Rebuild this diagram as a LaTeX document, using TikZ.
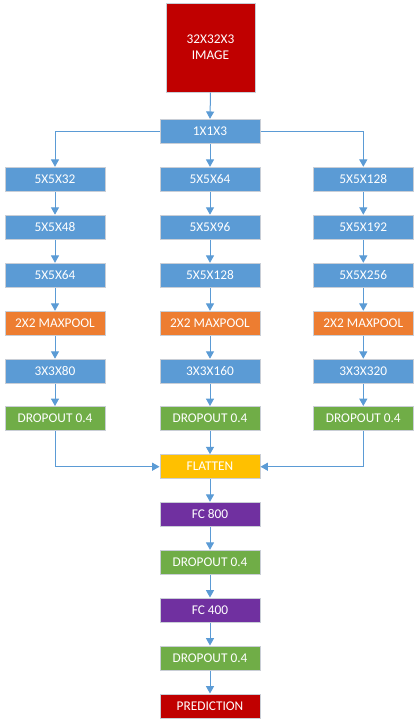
\documentclass[tikz,border=0pt]{standalone}
\usepackage{fontspec}
\setmainfont{Carlito}
\usetikzlibrary{arrows.meta}
\definecolor{cblue}{HTML}{5B9BD5}
\definecolor{corange}{HTML}{ED7D31}
\definecolor{cgreen}{HTML}{70AD47}
\definecolor{cyellow}{HTML}{FFC000}
\definecolor{cpurple}{HTML}{7030A0}
\definecolor{cred}{HTML}{C00000}
\definecolor{cedge}{HTML}{C9CED6}
\begin{document}
\begin{tikzpicture}[x=0.75pt,y=-0.75pt,
  layer/.style={draw=cedge, line width=0.75pt, text=white, inner sep=0pt,
    minimum width=75pt, minimum height=18pt,
    font=\fontsize{10pt}{12pt}\selectfont},
  conv/.style={layer, fill=cblue},
  pool/.style={layer, fill=corange},
  drop/.style={layer, fill=cgreen},
  flat/.style={layer, fill=cyellow},
  dense/.style={layer, fill=cpurple},
  outbox/.style={layer, fill=cred},
  arr/.style={draw=cblue, line width=0.75pt,
    -{Triangle[width=6pt,length=5.5pt]}}]
\useasboundingbox (0,0) rectangle (419,726);

% input
\node[outbox, minimum width=66.75pt, minimum height=66.75pt, align=center,
  font=\fontsize{10pt}{12pt}\selectfont] (img) at (210.5,47.5) {32X32X3\\IMAGE};
\node[conv] (c0) at (210,131.3) {1X1X3};

% left branch
\node[conv]  (a1) at (55,179.3) {5X5X32};
\node[conv]  (a2) at (55,227.2) {5X5X48};
\node[conv]  (a3) at (55,275.3) {5X5X64};
\node[pool]  (a4) at (55,323.3) {2X2 MAXPOOL};
\node[conv]  (a5) at (55,371.2) {3X3X80};
\node[drop]  (a6) at (55,418.5) {DROPOUT 0.4};

% middle branch
\node[conv]  (b1) at (210,179.3) {5X5X64};
\node[conv]  (b2) at (210,227.2) {5X5X96};
\node[conv]  (b3) at (210,275.3) {5X5X128};
\node[pool]  (b4) at (210,323.3) {2X2 MAXPOOL};
\node[conv]  (b5) at (210,371.2) {3X3X160};
\node[drop]  (b6) at (210,418.5) {DROPOUT 0.4};

% right branch
\node[conv]  (r1) at (363.3,179.3) {5X5X128};
\node[conv]  (r2) at (363.3,227.2) {5X5X192};
\node[conv]  (r3) at (363.3,275.3) {5X5X256};
\node[pool]  (r4) at (363.3,323.3) {2X2 MAXPOOL};
\node[conv]  (r5) at (363.3,371.2) {3X3X320};
\node[drop]  (r6) at (363.3,418.5) {DROPOUT 0.4};

% head
\node[flat]   (fl) at (210,466.7) {FLATTEN};
\node[dense]  (f1) at (210,514.3) {FC 800};
\node[drop]   (d1) at (210,562.3) {DROPOUT 0.4};
\node[dense]  (f2) at (210,610)   {FC 400};
\node[drop]   (d2) at (210,658)   {DROPOUT 0.4};
\node[outbox] (pr) at (210,706)   {PREDICTION};

% connectors
\draw[arr] (img.south) -- (c0.north);
\draw[arr] (c0.west) -| (a1.north);
\draw[arr] (c0.south) -- (b1.north);
\draw[arr] (c0.east) -| (r1.north);
\foreach \p in {a,b,r}{
  \draw[arr] (\p1) -- (\p2);
  \draw[arr] (\p2) -- (\p3);
  \draw[arr] (\p3) -- (\p4);
  \draw[arr] (\p4) -- (\p5);
  \draw[arr] (\p5) -- (\p6);
}
\draw[arr] (a6.south) |- (fl.west);
\draw[arr] (b6.south) -- (fl.north);
\draw[arr] (r6.south) |- (fl.east);
\draw[arr] (fl) -- (f1);
\draw[arr] (f1) -- (d1);
\draw[arr] (d1) -- (f2);
\draw[arr] (f2) -- (d2);
\draw[arr] (d2) -- (pr);
\end{tikzpicture}
\end{document}
